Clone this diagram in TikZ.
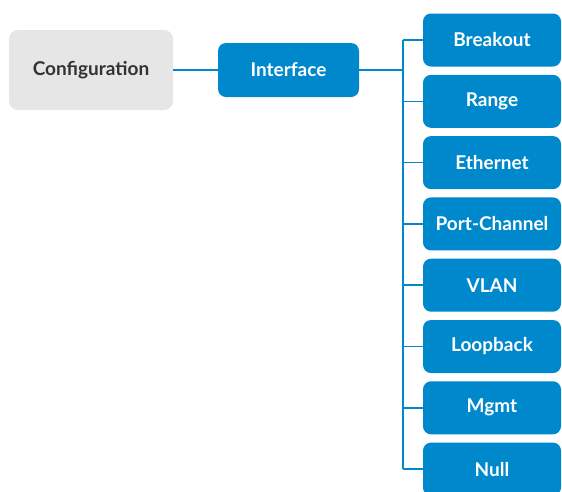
\documentclass[tikz,border=0pt]{standalone}
\usepackage{fontspec}
\setmainfont{Lato}
\definecolor{ifblue}{HTML}{0088CC}
\definecolor{cfggray}{HTML}{E6E6E6}
\definecolor{cfgtext}{HTML}{333333}
\tikzset{
  leafbox/.style={fill=ifblue, rounded corners=8pt, minimum width=138pt, minimum height=53pt,
    text=white, font=\fontsize{19}{22}\selectfont\bfseries},
  link/.style={draw=ifblue, line width=1.5pt}
}
\begin{document}
\begin{tikzpicture}[x=1pt,y=-1pt]
    \useasboundingbox (0,0) rectangle (562,491);
    % root and interface
    \node[fill=cfggray, rounded corners=9pt, minimum width=164pt, minimum height=80pt,
      text=cfgtext, font=\fontsize{19}{22}\selectfont\bfseries] (config) at (91,70) {Configuration};
    \node[leafbox, minimum width=141pt, minimum height=54pt] (iface) at (288.5,70) {Interface};
    \draw[link] (config) -- (iface);
    % leaves
    \foreach \name/\txt [count=\i from 0] in {brk/Breakout, rng/Range, eth/Ethernet,
      pch/Port-Channel, vlan/VLAN, lpb/Loopback, mgmt/Mgmt, null/Null}
      \node[leafbox] (\name) at (492,40+61.3*\i) {\txt};
    \coordinate (bus) at (403,70);
    \draw[link] (iface) -- (bus);
    \draw[link] (bus |- brk) -- (bus |- null);
    \foreach \name in {brk,rng,eth,pch,vlan,lpb,mgmt,null}
      \draw[link] (bus |- \name) -- (\name.west);
\end{tikzpicture}
\end{document}
